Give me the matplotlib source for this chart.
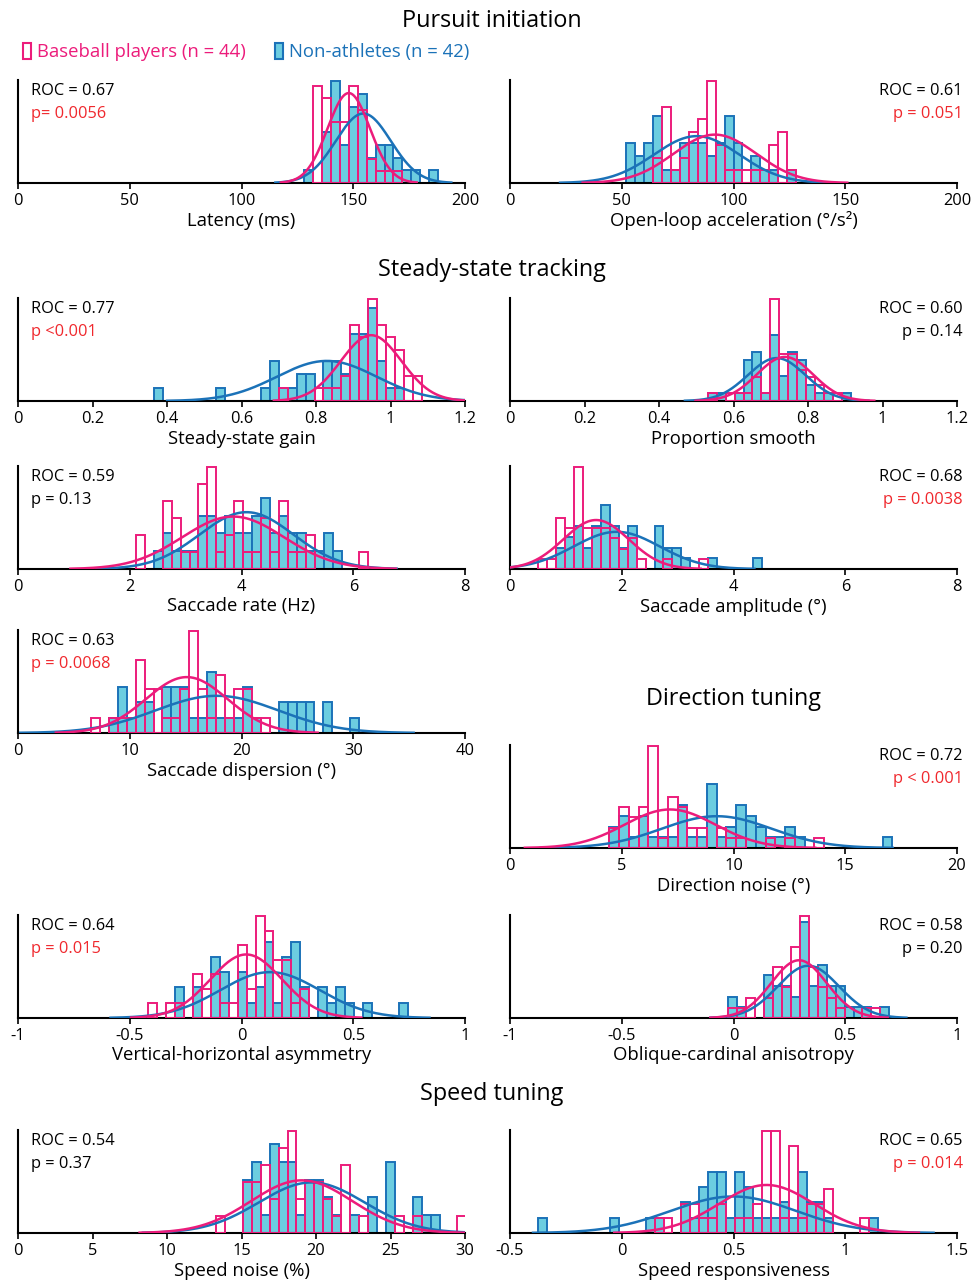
import numpy as np
import matplotlib.pyplot as plt
from matplotlib.patches import Patch

plt.rcParams['font.family'] = ['Open Sans', 'DejaVu Sans']
plt.rcParams['axes.unicode_minus'] = False

PINK = '#ec1c7b'
BLUE_EDGE = '#1b72b8'
BLUE_FILL = '#6ccde0'
RED = '#f0282d'

n_pink = 44   # baseball players
n_blue = 42   # non-athletes

# panel labels / stats
xlabels = ["Latency (ms)", "Open-loop acceleration (°/s²)",
           "Steady-state gain", "Proportion smooth",
           "Saccade rate (Hz)", "Saccade amplitude (°)",
           "Saccade dispersion (°)", "Direction noise (°)",
           "Vertical-horizontal asymmetry", "Oblique-cardinal anisotropy",
           "Speed noise (%)", "Speed responsiveness"]
roc_vals = ["0.67", "0.61", "0.77", "0.60", "0.59", "0.68",
            "0.63", "0.72", "0.64", "0.58", "0.54", "0.65"]
p_texts = ["p= 0.0056", "p = 0.051", "p <0.001", "p = 0.14", "p = 0.13", "p = 0.0038",
           "p = 0.0068", "p < 0.001", "p = 0.015", "p = 0.20", "p = 0.37", "p = 0.014"]
p_red = [True, True, True, False, False, True, True, True, True, False, False, True]

xlims = [(0, 200), (0, 200), (0, 1.2), (0, 1.2), (0, 8), (0, 8),
         (0, 40), (0, 20), (-1, 1), (-1, 1), (0, 30), (-0.5, 1.5)]
xtick_vals = [[0, 50, 100, 150, 200], [0, 50, 100, 150, 200],
              [0, 0.2, 0.4, 0.6, 0.8, 1, 1.2], [0, 0.2, 0.4, 0.6, 0.8, 1, 1.2],
              [0, 2, 4, 6, 8], [0, 2, 4, 6, 8],
              [0, 10, 20, 30, 40], [0, 5, 10, 15, 20],
              [-1, -0.5, 0, 0.5, 1], [-1, -0.5, 0, 0.5, 1],
              [0, 5, 10, 15, 20, 25, 30], [-0.5, 0, 0.5, 1, 1.5]]

# histogram bins (first edge, width)
bin_start = [128, 52, 0.364, 0.531, 2.11, 0.507, 6.53, 4.44, -0.417, -0.023, 13.29, -0.373]
bin_width = [4, 4, 0.024, 0.024, 0.16, 0.16, 0.8, 0.437, 0.04, 0.04, 0.6, 0.04]

# gaussian fits
blue_mu = [154.5, 83.5, 0.829, 0.716, 4.09, 1.91, 17.8, 9.25, 0.1275, 0.335, 19.71, 0.499]
blue_sd = [12.3, 19.1, 0.134, 0.077, 0.84, 0.77, 5.5, 2.46, 0.223, 0.137, 3.54, 0.28]
pink_mu = [148, 91.7, 0.948, 0.738, 3.85, 1.54, 15.1, 7.16, 0.021, 0.293, 19.04, 0.648]
pink_sd = [9.5, 18.5, 0.0816, 0.075, 0.91, 0.585, 3.66, 2.03, 0.161, 0.124, 3.4, 0.213]

# counts per bin
latency_blue = [1, 0, 4, 8, 3, 6, 7, 2, 3, 3, 2, 1, 1, 0, 1]
latency_pink = [0, 8, 7, 5, 5, 8, 6, 2, 1, 1, 1, 0, 0, 0, 0]
accel_blue = [3, 2, 3, 5, 1, 1, 3, 3, 3, 2, 3, 5, 3, 0, 2, 1, 1, 0, 1]
accel_pink = [0, 0, 0, 2, 6, 1, 2, 4, 5, 8, 3, 1, 1, 1, 1, 1, 3, 4, 1]
gain_blue = [1, 0, 0, 0, 0, 0, 0, 1, 0, 0, 0, 0, 1, 3, 1, 1, 2, 2, 0, 3, 3, 2, 5, 5, 7, 3, 1, 1, 0, 0]
gain_pink = [0, 0, 0, 0, 0, 0, 0, 0, 0, 0, 0, 0, 0, 0, 1, 0, 0, 0, 1, 1, 1, 2, 6, 5, 8, 6, 5, 4, 2, 2]
smooth_blue = [1, 1, 0, 1, 5, 6, 1, 8, 3, 6, 5, 2, 1, 1, 0, 1]
smooth_pink = [1, 0, 1, 1, 1, 3, 1, 13, 6, 6, 4, 3, 2, 1, 1, 0]
rate_blue = [0, 0, 1, 2, 1, 1, 1, 3, 3, 2, 3, 2, 2, 3, 4, 2, 3, 2, 2, 1, 1, 2, 1, 0, 0, 0]
rate_pink = [2, 0, 0, 4, 3, 1, 1, 5, 6, 1, 2, 4, 1, 1, 3, 1, 4, 1, 1, 2, 0, 0, 0, 0, 0, 1]
amp_blue = [0, 0, 2, 3, 4, 2, 4, 6, 4, 2, 4, 0, 0, 4, 2, 2, 1, 0, 0, 1, 0, 0, 0, 0, 1]
amp_pink = [1, 1, 5, 4, 10, 4, 4, 4, 3, 2, 3, 1, 0, 0, 1, 0, 0, 0, 1, 0, 0, 0, 0, 0, 0]
disp_blue = [0, 0, 1, 3, 1, 2, 2, 0, 3, 3, 3, 1, 1, 4, 1, 1, 1, 3, 1, 0, 0, 2, 2, 2, 2, 0, 2, 0, 0, 1]
disp_pink = [1, 0, 1, 1, 1, 5, 3, 3, 1, 1, 3, 7, 3, 1, 4, 1, 3, 3, 1, 1, 0, 0, 0, 0, 0, 0, 0, 0, 0, 0]
dirn_blue = [2, 3, 1, 3, 1, 1, 1, 4, 1, 1, 6, 1, 2, 4, 3, 2, 1, 1, 2, 1, 0, 0, 0, 0, 0, 0, 0, 0, 1]
dirn_pink = [2, 4, 3, 4, 10, 1, 5, 4, 2, 2, 0, 2, 1, 1, 0, 0, 1, 0, 1, 0, 0, 1, 0, 0, 0, 0, 0, 0, 0]
vh_blue = [0, 0, 0, 2, 0, 2, 0, 4, 3, 0, 3, 1, 2, 5, 1, 4, 5, 2, 0, 2, 1, 2, 1, 0, 1, 0, 0, 0, 1]
vh_pink = [1, 0, 1, 1, 0, 3, 2, 3, 1, 1, 5, 2, 7, 6, 4, 4, 1, 2, 0, 0, 0, 0, 0, 0, 0, 0, 0, 0, 0]
obl_blue = [2, 1, 0, 0, 4, 3, 3, 2, 9, 3, 5, 3, 3, 1, 1, 1, 0, 1]
obl_pink = [1, 1, 2, 0, 2, 5, 3, 7, 10, 5, 3, 2, 1, 0, 0, 1, 1, 0]
snoise_blue = [0, 0, 0, 3, 4, 1, 5, 4, 4, 1, 3, 3, 2, 1, 0, 1, 0, 2, 0, 4, 0, 0, 2, 1, 1, 0, 0, 0]
snoise_pink = [1, 0, 0, 3, 3, 4, 2, 5, 6, 2, 3, 3, 2, 1, 4, 0, 1, 0, 0, 0, 1, 0, 1, 0, 0, 0, 0, 1]
sresp_blue = [1, 0, 0, 0, 0, 0, 0, 0, 1, 0, 0, 0, 1, 1, 0, 0, 2, 1, 3, 4, 4, 1, 4, 3, 1, 1, 1, 2, 1, 4, 2, 2, 1, 0, 0, 0, 0, 1]
sresp_pink = [0, 0, 0, 0, 0, 0, 0, 0, 0, 0, 0, 0, 0, 1, 1, 0, 2, 2, 1, 1, 2, 0, 1, 1, 2, 7, 7, 1, 6, 1, 2, 2, 3, 0, 0, 0, 1, 0]

blue_counts = [latency_blue, accel_blue, gain_blue, smooth_blue, rate_blue, amp_blue,
               disp_blue, dirn_blue, vh_blue, obl_blue, snoise_blue, sresp_blue]
pink_counts = [latency_pink, accel_pink, gain_pink, smooth_pink, rate_pink, amp_pink,
               disp_pink, dirn_pink, vh_pink, obl_pink, snoise_pink, sresp_pink]

# axes boxes in pixels: left x, baseline y
W, H = 972, 1286
boxes = [(18, 183), (510, 183), (18, 401), (510, 401), (18, 569), (510, 569),
         (18, 733), (510, 848), (18, 1018), (510, 1018), (18, 1233), (510, 1233)]
AX_W, AX_H = 447, 103

fig = plt.figure(figsize=(W / 100, H / 100), dpi=100)

for i in range(12):
    x0, yb = boxes[i]
    ax = fig.add_axes([x0 / W, 1 - yb / H, AX_W / W, AX_H / H])
    w = bin_width[i]
    hb = np.array(blue_counts[i]) / n_blue
    hp = np.array(pink_counts[i]) / n_pink
    eb = bin_start[i] + w * np.arange(len(hb))
    ep = bin_start[i] + w * np.arange(len(hp))
    ax.bar(eb[hb > 0], hb[hb > 0], width=w, align='edge', color=BLUE_FILL,
           edgecolor=BLUE_EDGE, linewidth=1.4, zorder=2)
    ax.bar(ep[hp > 0], hp[hp > 0], width=w, align='edge', facecolor='none',
           edgecolor=PINK, linewidth=1.4, zorder=3)
    for mu, sd, c in [(blue_mu[i], blue_sd[i], BLUE_EDGE), (pink_mu[i], pink_sd[i], PINK)]:
        xs = np.linspace(mu - 3.2 * sd, mu + 3.2 * sd, 300)
        ys = w * np.exp(-0.5 * ((xs - mu) / sd) ** 2) / (sd * np.sqrt(2 * np.pi))
        ax.plot(xs, ys, color=c, lw=1.8, zorder=4)

    top = max(hb.max(), hp.max())
    ax.set_ylim(0, top * 1.01)
    ax.set_xlim(*xlims[i])
    ax.set_xticks(xtick_vals[i])
    ax.set_xticklabels(['%g' % v for v in xtick_vals[i]], fontsize=11.8)
    ax.set_yticks([])
    ax.tick_params(axis='x', length=4, width=1.2, pad=3)
    for s in ['top', 'right']:
        ax.spines[s].set_visible(False)
    for s in ['left', 'bottom']:
        ax.spines[s].set_linewidth(1.5)
    ax.set_xlabel(xlabels[i], fontsize=13.3, labelpad=2)

    pc = RED if p_red[i] else 'black'
    if i % 2 == 0:
        ax.text(0.03, 0.89, "ROC = " + roc_vals[i], transform=ax.transAxes,
                ha='left', va='center', fontsize=11.8)
        ax.text(0.03, 0.67, p_texts[i], transform=ax.transAxes,
                ha='left', va='center', fontsize=11.8, color=pc)
    else:
        ax.text(1.013, 0.89, "ROC = " + roc_vals[i], transform=ax.transAxes,
                ha='right', va='center', fontsize=11.8)
        ax.text(1.013, 0.67, p_texts[i], transform=ax.transAxes,
                ha='right', va='center', fontsize=11.8, color=pc)

# section titles
fig.text(492 / W, 1 - 21 / H, "Pursuit initiation", ha='center', va='center', fontsize=16.8)
fig.text(492 / W, 1 - 270 / H, "Steady-state tracking", ha='center', va='center', fontsize=16.8)
fig.text(734 / W, 1 - 699 / H, "Direction tuning", ha='center', va='center', fontsize=16.8)
fig.text(492 / W, 1 - 1094 / H, "Speed tuning", ha='center', va='center', fontsize=16.8)

# legend
handles = [Patch(facecolor='white', edgecolor=PINK, linewidth=1.5),
           Patch(facecolor=BLUE_FILL, edgecolor=BLUE_EDGE, linewidth=1.5)]
fig.legend(handles, ["Baseball players (n = 44)", "Non-athletes (n = 42)"],
           loc='center left', bbox_to_anchor=(23 / W, 1 - 52 / H), ncol=2,
           frameon=False, handlelength=0.45, handleheight=1.0, handletextpad=0.3,
           columnspacing=1.6, labelcolor=[PINK, BLUE_EDGE], fontsize=13.3,
           borderpad=0, borderaxespad=0)

fig.savefig('out.png', dpi=100)
